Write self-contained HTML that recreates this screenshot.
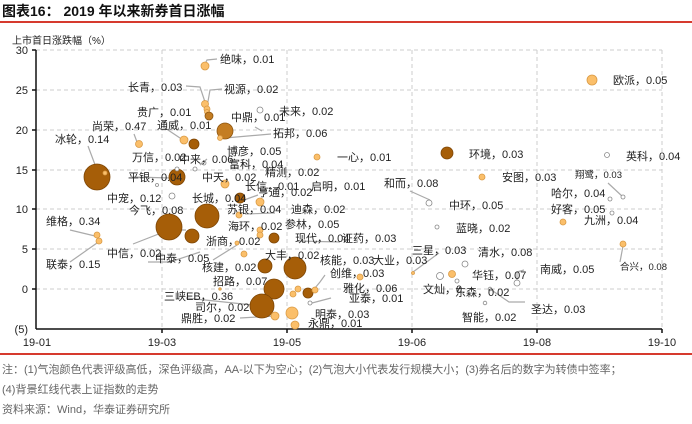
<!DOCTYPE html>
<html><head><meta charset="utf-8"><style>
html,body{margin:0;padding:0;background:#fff;}
svg{display:block;font-family:"Liberation Sans","Noto Sans CJK SC",sans-serif;}
.l{font-size:11px;fill:#222;}
.s{font-size:9.5px;fill:#222;}
.t{font-size:11px;fill:#222;}
.n{font-size:11px;fill:#666;}
.ld{stroke:#aaa;stroke-width:1.2;fill:none;}
.D{fill:#a65e08;stroke:#7d4504;stroke-width:0.8;}
.M{fill:#c47d22;stroke:#8d5510;stroke-width:0.8;}
.L{fill:#fbbf6a;stroke:#d99a45;stroke-width:0.8;}
.H{fill:#fff;stroke:#888;stroke-width:0.8;}
</style></head><body>
<svg width="692" height="424" viewBox="0 0 692 424">
<text x="2" y="16" style="font-size:14px;font-weight:bold;fill:#111">图表16： 2019 年以来新券首日涨幅</text>
<rect x="0" y="21" width="692" height="2" fill="#d63a2e"/>
<text x="12" y="44" style="font-size:10px;fill:#222">上市首日涨跌幅（%）</text>
<g stroke="#ccc" stroke-dasharray="4,3" stroke-width="1">
<line x1="36" y1="50" x2="662" y2="50"/><line x1="36" y1="90" x2="662" y2="90"/><line x1="36" y1="130" x2="662" y2="130"/><line x1="36" y1="170" x2="662" y2="170"/><line x1="36" y1="209" x2="662" y2="209"/><line x1="36" y1="249" x2="662" y2="249"/><line x1="36" y1="289" x2="662" y2="289"/>
<line x1="162" y1="50" x2="162" y2="329"/><line x1="287" y1="50" x2="287" y2="329"/><line x1="412" y1="50" x2="412" y2="329"/><line x1="537" y1="50" x2="537" y2="329"/><line x1="662" y1="50" x2="662" y2="329"/>
</g>
<g stroke="#111" stroke-width="1.5"><line x1="36" y1="50" x2="36" y2="329"/><line x1="36" y1="329" x2="662" y2="329"/>
<line x1="32" y1="50" x2="36" y2="50"/><line x1="32" y1="90" x2="36" y2="90"/><line x1="32" y1="130" x2="36" y2="130"/><line x1="32" y1="170" x2="36" y2="170"/><line x1="32" y1="209" x2="36" y2="209"/><line x1="32" y1="249" x2="36" y2="249"/><line x1="32" y1="289" x2="36" y2="289"/>
<line x1="162" y1="329" x2="162" y2="333"/><line x1="287" y1="329" x2="287" y2="333"/><line x1="412" y1="329" x2="412" y2="333"/><line x1="537" y1="329" x2="537" y2="333"/><line x1="662" y1="329" x2="662" y2="333"/></g>
<g class="t" text-anchor="end"><text x="28" y="54">30</text><text x="28" y="94">25</text><text x="28" y="134">20</text><text x="28" y="174">15</text><text x="28" y="213">10</text><text x="28" y="253">5</text><text x="28" y="293">0</text><text x="28" y="333">(5)</text></g>
<g class="t" text-anchor="middle"><text x="37" y="346">19-01</text><text x="162" y="346">19-03</text><text x="287" y="346">19-05</text><text x="412" y="346">19-06</text><text x="537" y="346">19-08</text><text x="662" y="346">19-10</text></g>
<!-- leaders -->
<g class="ld">
<path d="M217,59 L207,60 L205,64"/><path d="M186,86 L200,87 L205,102"/><path d="M222,89 L210,90 L207,107"/>
<path d="M165,128 L180,138"/><path d="M134,134 L137,142"/><path d="M271,134 L225,138"/>
<path d="M88,146 L97,170"/><path d="M255,127 L262,131"/><path d="M132,177 L172,178"/>
<path d="M207,159 L200,165"/><path d="M186,230 L169,230 L133,244"/><path d="M70,230 L95,236"/><path d="M70,262 L97,243"/>
<path d="M430,200 L410,191"/><path d="M608,183 L623,197"/><path d="M620,262 L623,246"/>
<path d="M439,253 L413,272"/><path d="M186,298 L262,306"/><path d="M240,318 L275,316"/>
<path d="M297,241 L340,242"/><path d="M213,260 L237,245"/><path d="M148,262 L170,262 L200,252"/>
<path d="M524,270 L517,272 L517,283"/><path d="M490,289 L509,302 L525,302"/><path d="M331,298 L312,303"/><path d="M325,275 L320,282 L315,288"/>
<path d="M244,200 L258,195"/><path d="M275,213 L245,214"/>
</g>
<!-- bubbles -->
<circle class="L" cx="205" cy="66" r="4"/>
<circle class="L" cx="205" cy="104" r="3.5"/><circle class="L" cx="207" cy="109" r="3"/><circle class="L" cx="207" cy="112" r="2.5"/>
<circle class="M" cx="209" cy="116" r="4"/><circle class="H" cx="260" cy="110" r="3"/>
<circle class="M" cx="225" cy="131" r="8"/><circle class="L" cx="220" cy="138" r="2.5"/>
<circle class="L" cx="139" cy="144" r="3.5"/><circle class="L" cx="184" cy="140" r="4"/><circle class="D" cx="194" cy="144" r="5"/>
<circle class="D" cx="97" cy="177" r="13"/><circle class="L" cx="105" cy="173" r="2"/>
<circle class="D" cx="177" cy="177" r="8"/><circle class="H" cx="177" cy="169" r="2"/><circle class="H" cx="157" cy="185" r="1.5"/>
<circle class="H" cx="195" cy="169" r="2"/><circle class="H" cx="204" cy="163" r="2"/><circle class="H" cx="245" cy="164" r="1.5"/>
<circle class="L" cx="225" cy="184" r="4"/><circle class="H" cx="172" cy="196" r="3"/><circle class="D" cx="240" cy="198" r="5"/>
<circle class="L" cx="260" cy="202" r="4"/><circle class="L" cx="317" cy="157" r="3"/>
<circle class="L" cx="97" cy="235" r="3"/><circle class="L" cx="99" cy="241" r="3"/>
<circle class="D" cx="169" cy="227" r="13"/><circle class="D" cx="207" cy="216" r="12"/><circle class="L" cx="239" cy="215" r="3"/>
<circle class="D" cx="192" cy="236" r="7"/><circle class="L" cx="237" cy="243" r="2"/><circle class="L" cx="244" cy="254" r="3"/>
<circle class="L" cx="260" cy="230" r="3"/><circle class="L" cx="260" cy="235" r="3"/><circle class="D" cx="274" cy="238" r="5"/>
<circle class="D" cx="265" cy="266" r="7"/><circle class="D" cx="295" cy="268" r="11"/><circle class="D" cx="274" cy="289" r="10"/>
<circle class="D" cx="262" cy="306" r="12"/><circle class="L" cx="275" cy="316" r="4"/><circle class="L" cx="220" cy="289" r="1.2"/>
<circle class="L" cx="293" cy="294" r="3"/><circle class="L" cx="298" cy="289" r="3"/><circle class="D" cx="308" cy="293" r="5"/>
<circle class="L" cx="315" cy="290" r="3"/><circle class="H" cx="310" cy="303" r="2"/><circle class="L" cx="292" cy="313" r="6"/><circle class="L" cx="295" cy="325" r="4"/>
<circle class="L" cx="360" cy="277" r="3"/>
<circle class="L" cx="592" cy="80" r="5"/><circle class="D" cx="447" cy="153" r="6"/><circle class="H" cx="607" cy="155" r="2.5"/>
<circle class="L" cx="482" cy="177" r="3"/><circle class="H" cx="429" cy="203" r="3"/><circle class="H" cx="610" cy="199" r="2"/><circle class="H" cx="623" cy="197" r="2"/>
<circle class="H" cx="612" cy="213" r="2"/><circle class="L" cx="563" cy="222" r="3"/><circle class="H" cx="437" cy="227" r="2"/><circle class="L" cx="623" cy="244" r="3"/>
<circle class="L" cx="413" cy="273" r="1.5"/><circle class="H" cx="465" cy="264" r="3"/><circle class="H" cx="440" cy="276" r="3.5"/><circle class="L" cx="452" cy="274" r="3.5"/>
<circle class="H" cx="457" cy="281" r="2"/><circle class="H" cx="517" cy="283" r="3"/><circle class="H" cx="490" cy="289" r="1.8"/><circle class="H" cx="485" cy="303" r="1.8"/>
<!-- labels -->
<g class="l">
<text x="220" y="63">绝味，0.01</text><text x="128" y="91">长青，0.03</text><text x="224" y="93">视源，0.02</text>
<text x="279" y="115">未来，0.02</text><text x="137" y="116">贵广，0.01</text><text x="231" y="121">中鼎，0.01</text>
<text x="92" y="130">尚荣，0.47</text><text x="157" y="129">通威，0.01</text><text x="273" y="137">拓邦，0.06</text>
<text x="55" y="143">冰轮，0.14</text><text x="132" y="161">万信，0.02</text><text x="179" y="163">中来，0.06</text>
<text x="227" y="155">博彦，0.05</text><text x="229" y="168">富科，0.04</text><text x="265" y="176">精测，0.02</text>
<text x="128" y="181">平银，0.04</text><text x="202" y="181">中天，0.02</text><text x="245" y="190">长信，0.01</text>
<text x="258" y="196">亨通，0.02</text><text x="311" y="190">启明，0.01</text><text x="107" y="202">中宠，0.12</text>
<text x="192" y="202">长城，0.04</text><text x="129" y="214">今飞，0.08</text><text x="227" y="213">苏银，0.04</text>
<text x="291" y="213">迪森，0.02</text><text x="337" y="161">一心，0.01</text><text x="46" y="225">维格，0.34</text>
<text x="228" y="230">海环，0.02</text><text x="285" y="228">参林，0.05</text><text x="206" y="245">浙商，0.02</text>
<text x="295" y="242">现代，0.04</text><text x="342" y="242">证药，0.03</text><text x="107" y="257">中信，0.02</text>
<text x="155" y="262">中泰，0.05</text><text x="265" y="259">大丰，0.02</text><text x="320" y="264">核能，0.03</text>
<text x="373" y="264">大业，0.03</text><text x="202" y="271">核建，0.02</text><text x="46" y="268">联泰，0.15</text>
<text x="330" y="277">创维，0.03</text><text x="213" y="285">招路，0.07</text><text x="343" y="292">雅化，0.06</text>
<text x="164" y="300">三峡EB，0.36</text><text x="349" y="302">亚泰，0.01</text><text x="195" y="311">司尔，0.02</text>
<text x="315" y="318">明泰，0.03</text><text x="181" y="322">鼎胜，0.02</text><text x="308" y="327">永鼎，0.01</text>
<text x="469" y="158">环境，0.03</text><text x="626" y="160">英科，0.04</text><text x="613" y="84">欧派，0.05</text>
<text x="502" y="181">安图，0.03</text><text x="384" y="187">和而，0.08</text><text x="551" y="197">哈尔，0.04</text>
<text x="449" y="209">中环，0.05</text><text x="551" y="213">好客，0.05</text><text x="584" y="224">九洲，0.04</text>
<text x="456" y="232">蓝晓，0.02</text><text x="412" y="254">三星，0.03</text><text x="478" y="256">清水，0.08</text>
<text x="540" y="273">南威，0.05</text><text x="472" y="279">华钰，0.07</text><text x="423" y="293">文灿，0.</text>
<text x="455" y="296">东森，0.02</text><text x="531" y="313">圣达，0.03</text><text x="462" y="321">智能，0.02</text>
</g>
<g class="s"><text x="575" y="178">翔鹭，0.03</text><text x="620" y="270">合兴，0.08</text></g>
<rect x="0" y="353" width="692" height="2" fill="#d63a2e"/>
<text class="n" x="2" y="373">注：(1)气泡颜色代表评级高低，深色评级高，AA-以下为空心；(2)气泡大小代表发行规模大小；(3)券名后的数字为转债中签率；</text>
<text class="n" x="2" y="393">(4)背景红线代表上证指数的走势</text>
<text class="n" x="2" y="413">资料来源：Wind，华泰证券研究所</text>
</svg>
</body></html>
